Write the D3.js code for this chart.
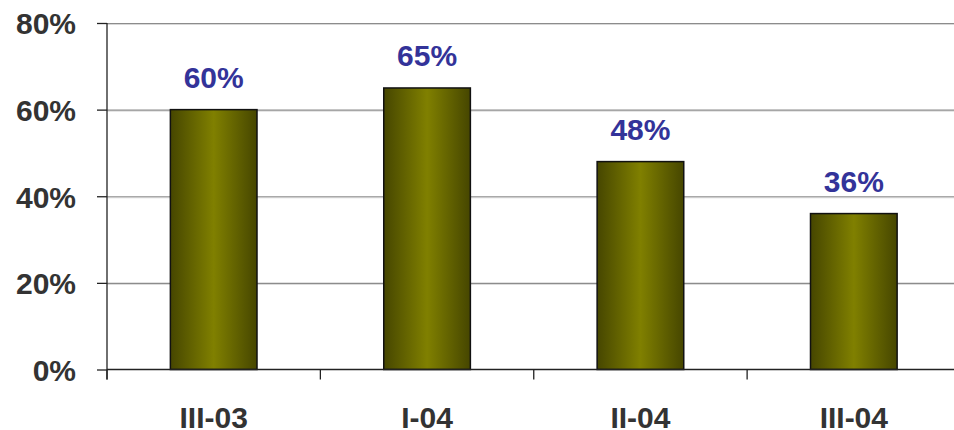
<!DOCTYPE html>
<html><head><meta charset="utf-8">
<script src="https://cdn.jsdelivr.net/npm/d3@7"></script>
<style>html,body{margin:0;padding:0;background:#fff;}svg{display:block;}</style>
</head><body>
<svg id="chart" width="954" height="430"></svg>
<script>
const categories = ["III-03", "I-04", "II-04", "III-04"];
const values = [0.60, 0.65, 0.48, 0.36];
const valueLabels = ["60%", "65%", "48%", "36%"];
const yTicks = [0, 0.2, 0.4, 0.6, 0.8];
const yTickLabels = ["0%", "20%", "40%", "60%", "80%"];

(function () {
const svg = d3.select("#chart");
const mLeft = 107, mRight = 960.5, mTop = 23, mBottom = 369.5;
const FONT = "Liberation Sans, Arial, sans-serif";

const x = d3.scaleBand().domain(categories).range([mLeft, mRight]).padding(0);
const y = d3.scaleLinear().domain([0, 0.8]).range([mBottom, mTop]);

const defs = svg.append("defs");
const grad = defs.append("linearGradient").attr("id", "barGrad")
  .attr("x1", "0%").attr("x2", "100%").attr("y1", "0%").attr("y2", "0%");
grad.append("stop").attr("offset", "0%").attr("stop-color", "#464600");
grad.append("stop").attr("offset", "50%").attr("stop-color", "#808000");
grad.append("stop").attr("offset", "100%").attr("stop-color", "#464600");

// gridlines
const gl = yTicks.filter(d => d > 0);
svg.append("g").selectAll("line").data(gl).join("line")
  .attr("x1", mLeft).attr("x2", 954)
  .attr("y1", d => y(d) + 1.5).attr("y2", d => y(d) + 1.5)
  .attr("stroke", "#d8d8d8").attr("stroke-width", 1);
svg.append("g").selectAll("line").data(gl).join("line")
  .attr("x1", mLeft).attr("x2", 954)
  .attr("y1", d => y(d) + 0.5).attr("y2", d => y(d) + 0.5)
  .attr("stroke", "#8c8c8c").attr("stroke-width", 1.2);

// bars
const bw = x.bandwidth() * 0.406;
svg.append("g").selectAll("rect").data(values).join("rect")
  .attr("x", (d, i) => x(categories[i]) + x.bandwidth() / 2 - bw / 2)
  .attr("y", d => y(d))
  .attr("width", bw)
  .attr("height", d => mBottom - y(d))
  .attr("fill", "url(#barGrad)")
  .attr("stroke", "#111").attr("stroke-width", 1.5);

// value labels
svg.append("g").selectAll("text").data(values).join("text")
  .attr("x", (d, i) => x(categories[i]) + x.bandwidth() / 2)
  .attr("y", d => y(d) - 22)
  .attr("text-anchor", "middle")
  .attr("font-family", FONT)
  .attr("font-weight", "bold").attr("font-size", 30)
  .attr("fill", "#333399")
  .text((d, i) => valueLabels[i]);

// y axis
const yAxis = d3.axisLeft(y).tickValues(yTicks).tickSize(10).tickFormat((d, i) => yTickLabels[i]);
const gy = svg.append("g").attr("transform", `translate(${mLeft},0)`).call(yAxis);
gy.select(".domain").attr("d", `M0,${mTop}V${mBottom + 10}`).attr("stroke", "#222").attr("stroke-width", 1.3);
gy.selectAll(".tick line").attr("stroke", "#222").attr("stroke-width", 1.3);
gy.selectAll(".tick text")
  .attr("x", -31).attr("dy", "0.36em")
  .attr("font-family", FONT)
  .attr("font-weight", "bold").attr("font-size", 30)
  .attr("fill", "#333");

// x axis
const gx = svg.append("g").attr("transform", `translate(0,${mBottom})`);
gx.append("line").attr("x1", mLeft).attr("x2", 954).attr("y1", 0).attr("y2", 0)
  .attr("stroke", "#222").attr("stroke-width", 1.3);
gx.selectAll("line.tk").data(categories).join("line").attr("class", "tk")
  .attr("x1", d => x(d)).attr("x2", d => x(d))
  .attr("y1", 0).attr("y2", 10).attr("stroke", "#222").attr("stroke-width", 1.3);
gx.selectAll("text.cat").data(categories).join("text").attr("class", "cat")
  .attr("x", d => x(d) + x.bandwidth() / 2)
  .attr("y", 58)
  .attr("text-anchor", "middle")
  .attr("font-family", FONT)
  .attr("font-weight", "bold").attr("font-size", 30)
  .attr("fill", "#333")
  .text(d => d);
})();
</script>
</body></html>
